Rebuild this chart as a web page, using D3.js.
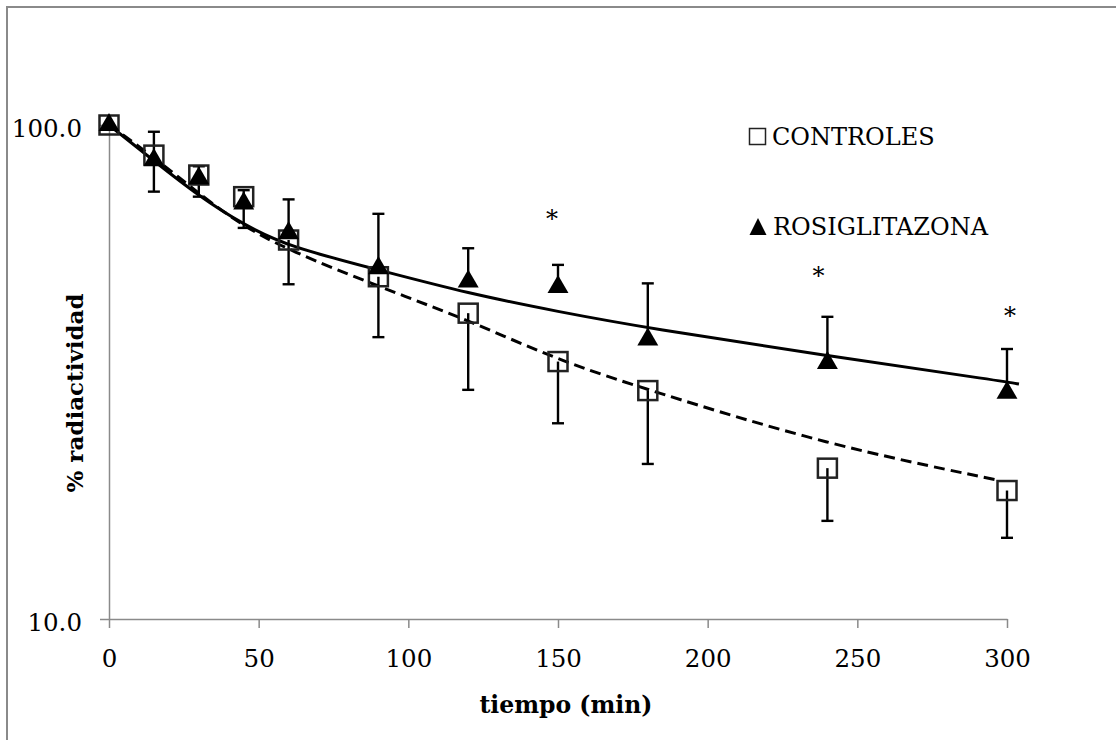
<!DOCTYPE html>
<html>
<head>
<meta charset="utf-8">
<title>% radiactividad</title>
<script src="https://d3js.org/d3.v7.min.js"></script>
<style>
    body { margin: 0; background: #fff; }
    #chart { display: block; font-family: "DejaVu Serif", serif; }
</style>
</head>
<body>
<svg id="chart"></svg>
<script>

// datos
const tiempo = [0, 15, 30, 45, 60, 90, 120, 150, 180, 240, 300];
const controles = [100, 86.9, 79.2, 71.6, 58.5, 49.3, 41.6, 33.2, 29.0, 20.2, 18.2];
const controlesErr = [0, 13.6, 7.6, 9.7, 10.9, 12.1, 12.5, 8.3, 8.4, 4.4, 3.6];   // barra hacia abajo
const rosiglitazona = [100, 84.9, 78.0, 69.4, 60.4, 51.3, 48.2, 47.0, 36.8, 33.0, 28.7];
const rosiErr = [0, 12.0, 4.5, 4.4, 10.3, 14.8, 8.1, 5.1, 11.0, 7.9, 6.5];          // barra hacia arriba

// curvas de ajuste
const ajusteRosiT = [0, 15, 30, 45, 60, 90, 120, 150, 180, 240, 300, 304];
const ajusteRosi = [100, 84.6, 71.8, 62.8, 56.7, 50.9, 45.6, 41.9, 38.8, 34.1, 30.2, 29.9];
const ajusteCtrlT = [0, 15, 30, 45, 60, 90, 120, 150, 180, 240, 297];
const ajusteCtrl = [100, 86.1, 72.6, 62.3, 55.8, 47.1, 40.3, 33.4, 29.1, 22.5, 19.1];

// asteriscos (tiempo, valor)
const asteriscoT = [148, 237, 301];
const asteriscoV = [66.3, 50.8, 42.2];

const xTicks = [0, 50, 100, 150, 200, 250, 300];
const yTicks = [10, 100];

const width = 1116, height = 740;

const svg = d3.select("#chart")
    .attr("width", width)
    .attr("height", height);

// marco
svg.append("rect")
    .attr("x", 7).attr("y", 7)
    .attr("width", width).attr("height", height)
    .attr("fill", "none")
    .attr("stroke", "#8a8a8a")
    .attr("stroke-width", 2);

const x = d3.scaleLinear()
    .domain([0, 300])
    .range([109, 1007]);

const y = d3.scaleLog()
    .domain([10, 100])
    .range([619, 125]);

// ejes
const xAxis = svg.append("g")
    .attr("transform", `translate(0,${y(10)})`)
    .call(d3.axisBottom(x).tickValues(xTicks).tickSize(9).tickSizeOuter(0).tickPadding(22));

const yAxis = svg.append("g")
    .attr("transform", `translate(${x(0)},0)`)
    .call(d3.axisLeft(y).tickValues(yTicks).tickFormat(d3.format(".1f")).tickSize(9).tickSizeOuter(0).tickPadding(18));

[xAxis, yAxis].forEach(g => {
    g.select(".domain").attr("stroke", "#8a8a8a").attr("stroke-width", 1.5);
    g.selectAll(".tick line").attr("stroke", "#8a8a8a").attr("stroke-width", 1.5);
    g.selectAll(".tick text")
        .attr("fill", "#000")
        .style("font-family", "DejaVu Serif, serif")
        .style("font-size", "24.5px");
});
yAxis.selectAll(".tick text").attr("dy", "0.45em");

// curvas de ajuste
const linea = d3.line()
    .x(d => x(d[0]))
    .y(d => y(d[1]))
    .curve(d3.curveBasis);

svg.append("path")
    .datum(ajusteCtrlT.map((t, i) => [t, ajusteCtrl[i]]))
    .attr("d", linea)
    .attr("fill", "none")
    .attr("stroke", "#000")
    .attr("stroke-width", 3)
    .attr("stroke-dasharray", "11,6");

svg.append("path")
    .datum(ajusteRosiT.map((t, i) => [t, ajusteRosi[i]]))
    .attr("d", linea)
    .attr("fill", "none")
    .attr("stroke", "#000")
    .attr("stroke-width", 3);

// barras de error
const cap = 6;
const errG = svg.append("g").attr("stroke", "#000").attr("stroke-width", 2.4);

tiempo.forEach((t, i) => {
    if (controlesErr[i] > 0) {
        const y0 = y(controles[i]), y1 = y(controles[i] - controlesErr[i]);
        errG.append("line").attr("x1", x(t)).attr("x2", x(t)).attr("y1", y0).attr("y2", y1);
        errG.append("line").attr("x1", x(t) - cap).attr("x2", x(t) + cap).attr("y1", y1).attr("y2", y1);
    }
    if (rosiErr[i] > 0) {
        const y0 = y(rosiglitazona[i]), y1 = y(rosiglitazona[i] + rosiErr[i]);
        errG.append("line").attr("x1", x(t)).attr("x2", x(t)).attr("y1", y0).attr("y2", y1);
        errG.append("line").attr("x1", x(t) - cap).attr("x2", x(t) + cap).attr("y1", y1).attr("y2", y1);
    }
});

// marcadores
const sq = 19;
svg.append("g")
    .selectAll("rect")
    .data(tiempo.map((t, i) => [t, controles[i]]))
    .join("rect")
    .attr("x", d => x(d[0]) - sq / 2)
    .attr("y", d => y(d[1]) - sq / 2)
    .attr("width", sq)
    .attr("height", sq)
    .attr("fill", "none")
    .attr("stroke", "#222")
    .attr("stroke-width", 2.5);

const tri = d3.symbol().type(d3.symbolTriangle).size(190);
svg.append("g")
    .selectAll("path")
    .data(tiempo.map((t, i) => [t, rosiglitazona[i]]))
    .join("path")
    .attr("transform", d => `translate(${x(d[0])},${y(d[1])})`)
    .attr("d", tri)
    .attr("fill", "#000");

// asteriscos
svg.append("g")
    .selectAll("text")
    .data(asteriscoT.map((t, i) => [t, asteriscoV[i]]))
    .join("text")
    .attr("x", d => x(d[0]))
    .attr("y", d => y(d[1]) + 14)
    .attr("text-anchor", "middle")
    .style("font-size", "24px")
    .text("*");

// leyenda
const legend = svg.append("g").style("font-size", "24px");
legend.append("rect")
    .attr("x", 749.5).attr("y", 128.5)
    .attr("width", 16).attr("height", 16)
    .attr("fill", "none").attr("stroke", "#222").attr("stroke-width", 1.5);
legend.append("text").attr("x", 772).attr("y", 145).text("CONTROLES");
legend.append("path")
    .attr("d", "M758,218 L766.5,235 L749.5,235 Z")
    .attr("fill", "#000");
legend.append("text").attr("x", 773).attr("y", 235).text("ROSIGLITAZONA");

// títulos de ejes
svg.append("text")
    .attr("x", 566)
    .attr("y", 713)
    .attr("text-anchor", "middle")
    .style("font-size", "23.5px")
    .style("font-weight", "bold")
    .text("tiempo (min)");

svg.append("text")
    .attr("transform", `translate(83,393) rotate(-90)`)
    .attr("text-anchor", "middle")
    .style("font-size", "23px")
    .style("font-weight", "bold")
    .text("% radiactividad");
</script>
</body>
</html>
